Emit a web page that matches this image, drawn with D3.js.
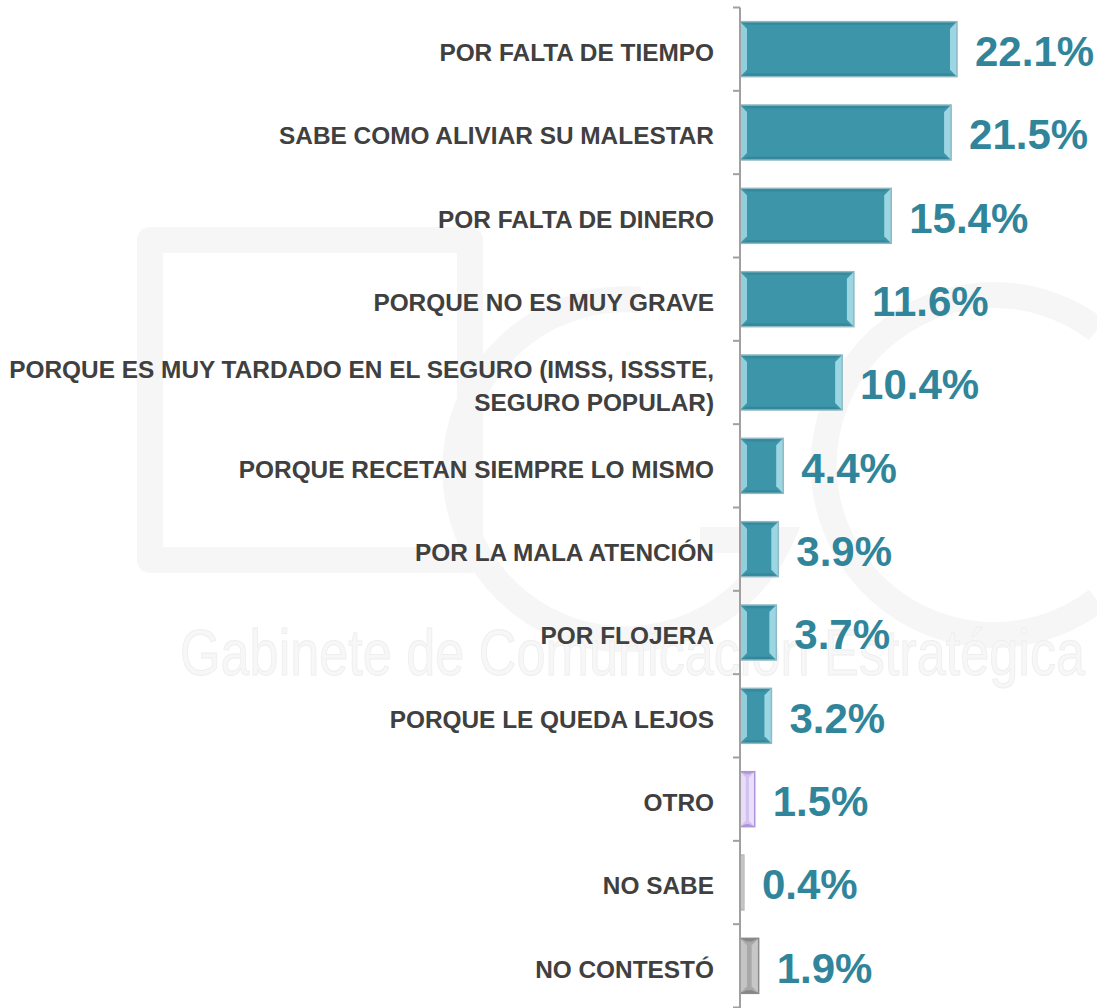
<!DOCTYPE html>
<html>
<head>
<meta charset="utf-8">
<script src="https://cdn.jsdelivr.net/npm/d3@7"></script>
<style>
  body { margin: 0; background: #fff; }
  svg { display: block; }
</style>
</head>
<body>
<div id="chart"></div>
<script>
// categories, values and per-bar colour group, top to bottom
const categories = [
  'POR FALTA DE TIEMPO',
  'SABE COMO ALIVIAR SU MALESTAR',
  'POR FALTA DE DINERO',
  'PORQUE NO ES MUY GRAVE',
  'PORQUE ES MUY TARDADO EN EL SEGURO (IMSS, ISSSTE,|SEGURO POPULAR)',
  'PORQUE RECETAN SIEMPRE LO MISMO',
  'POR LA MALA ATENCIÓN',
  'POR FLOJERA',
  'PORQUE LE QUEDA LEJOS',
  'OTRO',
  'NO SABE',
  'NO CONTESTÓ'
];
const values = [22.1, 21.5, 15.4, 11.6, 10.4, 4.4, 3.9, 3.7, 3.2, 1.5, 0.4, 1.9];
const groups = ['main', 'main', 'main', 'main', 'main', 'main', 'main', 'main', 'main', 'otro', 'nosabe', 'nocontesto'];

const width = 1097, height = 1008;
const axisX = 740;

// fill / bevel colours per group
const palette = {
  main:       { fill: '#3c95a9', light: '#a6dde9', dark: '#2f7f91', edge: '#8fb9c4' },
  otro:       { fill: '#d3c0ef', light: '#ece2fb', dark: '#9a7cc8', edge: '#ad94d8' },
  nosabe:     { fill: '#b4b4b4', light: '#d6d6d6', dark: '#9a9a9a', edge: '#bdbdbd' },
  nocontesto: { fill: '#a8a8a8', light: '#cacaca', dark: '#6e6e6e', edge: '#8a8a8a' }
};

const svg = d3.select('#chart').append('svg')
  .attr('width', width)
  .attr('height', height);

// faint watermark behind the chart
const wm = svg.append('g').attr('fill', 'none').attr('stroke', '#f6f6f6').attr('stroke-width', 26);
wm.append('path').attr('d', 'M150,240 L470,240 L470,560 L150,560 Z').attr('stroke-linejoin', 'round');
wm.append('path').attr('d', 'M640,300 A170,170 0 1 0 780,540 L700,540');
wm.append('path').attr('d', 'M1097,330 A170,170 0 1 0 1097,600');
svg.append('text')
  .attr('x', 180).attr('y', 675)
  .attr('font-family', '"Liberation Sans", Arial, sans-serif')
  .attr('font-size', 64)
  .attr('textLength', 905)
  .attr('lengthAdjust', 'spacingAndGlyphs')
  .attr('fill', '#f7f7f7')
  .attr('stroke', '#eeeeee')
  .attr('stroke-width', 1)
  .text('Gabinete de Comunicación Estratégica');

const x = d3.scaleLinear()
  .domain([0, 22.1])
  .range([axisX, 957]);

const y = d3.scaleBand()
  .domain(categories)
  .range([7.5, 1007.5])
  .paddingInner(0.34)
  .paddingOuter(0.17);

// bars with a bevel look
const bar = svg.append('g')
  .selectAll('g')
  .data(categories)
  .enter().append('g')
  .attr('transform', d => `translate(${axisX},${y(d)})`);

bar.each(function (d, i) {
  const g = d3.select(this);
  const w = x(values[i]) - axisX;
  const h = y.bandwidth();
  const c = palette[groups[i]];
  const b = Math.min(7, w / 2.5);
  g.append('rect')
    .attr('width', w).attr('height', h)
    .attr('fill', c.fill);
  // top and bottom bevels
  g.append('path')
    .attr('d', `M0,0 L${w},0 L${w - b},${b * 0.45} L${b},${b * 0.45} Z`)
    .attr('fill', c.dark).attr('opacity', 0.55);
  g.append('path')
    .attr('d', `M0,${h} L${w},${h} L${w - b},${h - b * 0.45} L${b},${h - b * 0.45} Z`)
    .attr('fill', c.dark).attr('opacity', 0.6);
  // left and right bevels
  g.append('path')
    .attr('d', `M0,0 L${b},${b} L${b},${h - b} L0,${h} Z`)
    .attr('fill', c.light).attr('opacity', 0.8);
  g.append('path')
    .attr('d', `M${w},0 L${w - b},${b} L${w - b},${h - b} L${w},${h} Z`)
    .attr('fill', c.light).attr('opacity', 0.9);
  g.append('rect')
    .attr('width', w).attr('height', h)
    .attr('fill', 'none')
    .attr('stroke', c.edge)
    .attr('stroke-width', 1.5);
});

// value labels
svg.append('g')
  .selectAll('text')
  .data(categories)
  .enter().append('text')
  .attr('x', (d, i) => x(values[i]) + 18)
  .attr('y', d => y(d) + y.bandwidth() / 2)
  .attr('dy', '0.4em')
  .attr('font-family', '"Liberation Sans", Arial, sans-serif')
  .attr('font-weight', 700)
  .attr('font-size', 42)
  .attr('fill', '#31859b')
  .text((d, i) => values[i].toFixed(1) + '%');

// axis: vertical line with ticks on band boundaries
const axis = svg.append('g').attr('stroke', '#a0a0a0').attr('stroke-width', 2);
axis.append('line')
  .attr('x1', axisX).attr('x2', axisX)
  .attr('y1', y.range()[0]).attr('y2', height);
axis.selectAll('line.tick')
  .data(d3.range(categories.length + 1))
  .enter().append('line')
  .attr('class', 'tick')
  .attr('x1', axisX - 7).attr('x2', axisX)
  .attr('y1', i => y.range()[0] + i * y.step())
  .attr('y2', i => y.range()[0] + i * y.step());

// category labels, right aligned, '|' splits lines
const label = svg.append('g')
  .selectAll('text')
  .data(categories)
  .enter().append('text')
  .attr('text-anchor', 'end')
  .attr('font-family', '"Liberation Sans", Arial, sans-serif')
  .attr('font-weight', 700)
  .attr('font-size', 24.4)
  .attr('fill', '#404040');

label.each(function (d) {
  const lines = d.split('|');
  const cy = y(d) + y.bandwidth() / 2 + 3;
  const lh = 33;
  lines.forEach((s, k) => {
    d3.select(this).append('tspan')
      .attr('x', 714)
      .attr('y', cy + (k - (lines.length - 1) / 2) * lh)
      .attr('dy', '0.36em')
      .text(s);
  });
});
</script>
</body>
</html>
